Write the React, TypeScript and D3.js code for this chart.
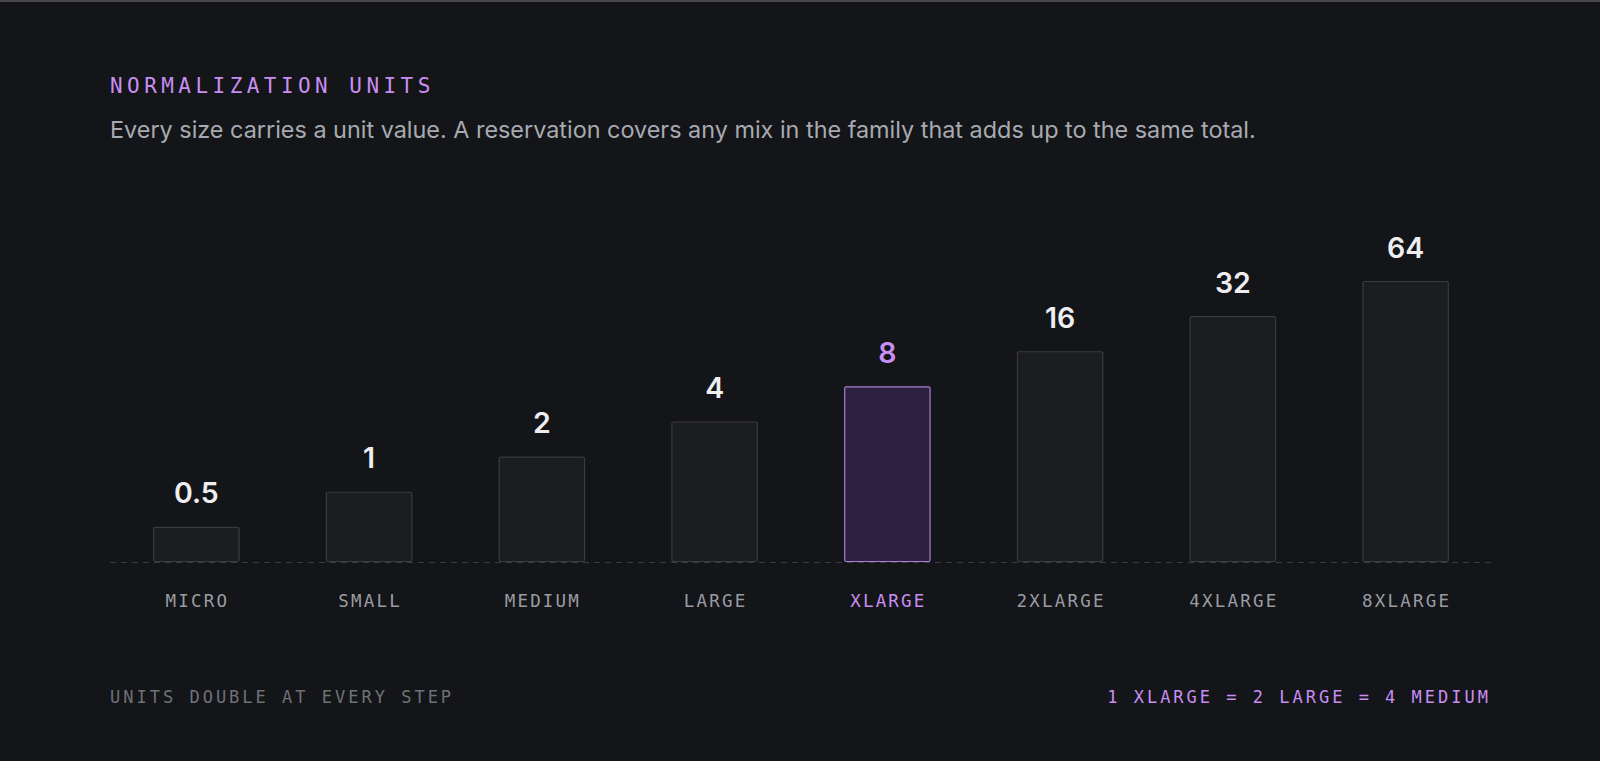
import React, { useEffect } from "react";
import * as d3 from "d3";

const categories = ["MICRO", "SMALL", "MEDIUM", "LARGE", "XLARGE", "2XLARGE", "4XLARGE", "8XLARGE"];
const units = [0.5, 1, 2, 4, 8, 16, 32, 64];
const valueLabels = ["0.5", "1", "2", "4", "8", "16", "32", "64"];
const highlighted = "XLARGE";
const title = "NORMALIZATION UNITS";
const subtitle = "Every size carries a unit value. A reservation covers any mix in the family that adds up to the same total.";
const footLeft = "UNITS DOUBLE AT EVERY STEP";
const footRight = "1 XLARGE = 2 LARGE = 4 MEDIUM";

const W = 1600;
const H = 761;
const BG = "#141518";
const PURPLE = "#c88ef2";
const MONO = "'DejaVu Sans Mono', monospace";
const SANS = "Inter, 'Noto Sans', sans-serif";

export default function App() {
  useEffect(() => {
    document.body.style.margin = "0";
    document.body.style.background = BG;
  }, []);

  const x = d3.scaleBand<string>().domain(categories).range([110, 1492]).paddingInner(0.5).paddingOuter(0.25);
  const y = d3.scaleLog().base(2).domain([0.25, 64]).range([562, 281]);
  const baseY = y(0.25);

  return (
    <svg width={W} height={H} style={{ display: "block", background: BG }}>
      <rect x={0} y={0} width={W} height={2} fill="#48484c" />
      <text x={110} y={93} fill={PURPLE} fontFamily={MONO} fontSize={21} letterSpacing={4.45}>
        {title}
      </text>
      <text x={110} y={137.5} fill="#a7aab1" fontFamily={SANS} fontSize={23.4}>
        {subtitle}
      </text>

      <line x1={110} x2={1492} y1={baseY + 0.5} y2={baseY + 0.5} stroke="#3b3c40" strokeWidth={1.2} strokeDasharray="6 5" />

      {categories.map((c, i) => {
        const hi = c === highlighted;
        const bx = x(c)!;
        const bw = x.bandwidth();
        const top = y(units[i]);
        const cx = bx + bw / 2;
        return (
          <g key={c}>
            <rect
              x={bx + 0.5}
              y={top + 0.5}
              width={bw - 1}
              height={baseY - top - 1}
              rx={1.5}
              fill={hi ? "#2e2040" : "#1c1d20"}
              stroke={hi ? "#a77fd0" : "#3a3b3f"}
              strokeWidth={1.2}
            />
            <text
              x={cx}
              y={top - 23.5}
              textAnchor="middle"
              fill={hi ? PURPLE : "#eeeef0"}
              fontFamily={SANS}
              fontWeight={600}
              fontSize={28.5}
            >
              {valueLabels[i]}
            </text>
            <text
              x={cx + 1}
              y={606.5}
              textAnchor="middle"
              fill={hi ? PURPLE : "#9a9ca3"}
              fontFamily={MONO}
              fontSize={17.5}
              letterSpacing={2.2}
            >
              {c}
            </text>
          </g>
        );
      })}

      <text x={110} y={702.5} fill="#6f7177" fontFamily={MONO} fontSize={17} letterSpacing={3}>
        {footLeft}
      </text>
      <text x={1491} y={702.5} textAnchor="end" fill={PURPLE} fontFamily={MONO} fontSize={17} letterSpacing={3}>
        {footRight}
      </text>
    </svg>
  );
}
